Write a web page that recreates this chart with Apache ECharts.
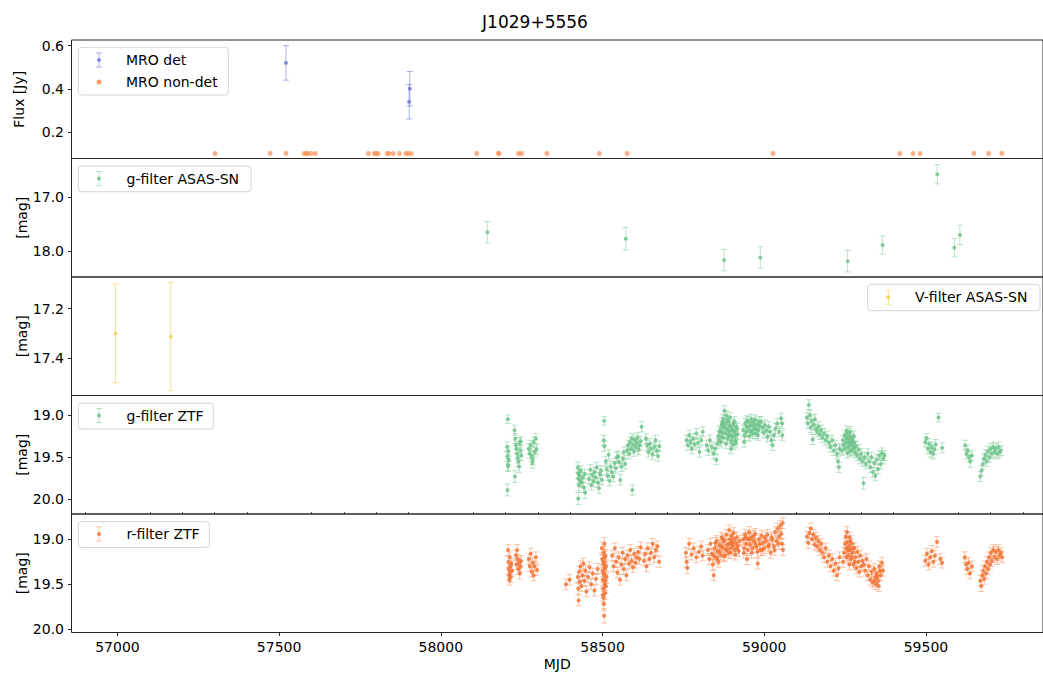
<!DOCTYPE html>
<html><head><meta charset="utf-8">
<script src="https://cdn.jsdelivr.net/npm/echarts@6/dist/echarts.min.js"></script>
<style>html,body{margin:0;padding:0;background:#fff}#c{width:1043px;height:677px}</style>
</head><body><div id="c"></div>
<script>
// ---------------- DATA ----------------
// [MJD, flux Jy, err]
const mroDet = [[57521,0.52,0.08],[57904,0.40,0.08],[57902,0.34,0.08]];
// MJD of MRO non-detections (plotted at 0.1 Jy)
const mroNonDetMjd = [57302,57472,57521,57577,57584,57588,57599,57612,57776,57794,57800,57806,57834,57840,57853,57872,57892,57899,57908,58111,58178,58180,58240,58250,58328,58490,58576,59027,59419,59460,59482,59648,59694,59735];
const mroNonDetFlux = 0.1;
// [MJD, mag, err]
const asasG = [[58144,17.65,0.20],[58572,17.77,0.21],[58876,18.17,0.20],[58988,18.12,0.20],[59258,18.19,0.20],[59366,17.89,0.17],[59535,16.57,0.18],[59588,17.94,0.17],[59605,17.70,0.18]];
const asasV = [[56994,17.30,0.20],[57165,17.313,0.219]];
const ztfG = [
[58207,19.05,0.05],[58206,19.89,0.07],[58205,19.38,0.06],[58206,19.49,0.06],[58207,19.59,0.07],[58208,19.61,0.06],[58209,19.43,0.06],[58210,19.53,0.06],
[58228,19.18,0.06],[58230,19.28,0.06],[58232,19.36,0.05],[58234,19.40,0.06],[58236,19.46,0.06],[58238,19.51,0.06],[58240,19.55,0.06],[58242,19.61,0.07],[58229,19.73,0.07],[58244,19.33,0.06],[58246,19.42,0.06],[58247,19.31,0.05],[58249,19.48,0.06],
[58272,19.40,0.06],[58275,19.46,0.06],[58278,19.36,0.06],[58281,19.49,0.06],[58284,19.53,0.06],[58287,19.32,0.06],[58290,19.44,0.06],[58294,19.28,0.06],[58296,19.41,0.06],[58283,19.57,0.06],
[58424,19.62,0.06],[58425,19.69,0.06],[58426,19.75,0.06],[58427,19.83,0.07],[58425,19.99,0.07],[58428,19.71,0.06],[58430,19.78,0.06],[58433,19.66,0.06],[58436,19.80,0.06],[58439,19.74,0.06],[58442,19.86,0.06],[58446,19.92,0.07],[58445,19.70,0.06],
[58458,19.76,0.06],[58462,19.65,0.06],[58465,19.83,0.06],[58468,19.71,0.06],[58472,19.79,0.06],[58475,19.68,0.06],[58478,19.74,0.06],[58482,19.62,0.06],[58486,19.80,0.06],[58489,19.87,0.06],[58492,19.70,0.06],[58495,19.66,0.06],[58498,19.77,0.06],
[58505,19.07,0.05],[58504,19.30,0.06],[58506,19.37,0.06],
[58510,19.55,0.06],[58513,19.64,0.06],[58516,19.72,0.06],[58519,19.47,0.06],[58522,19.78,0.06],[58525,19.61,0.06],[58529,19.68,0.06],[58533,19.73,0.06],[58537,19.57,0.06],[58541,19.63,0.06],[58544,19.50,0.06],
[58548,19.49,0.06],[58551,19.56,0.06],[58555,19.77,0.06],[58559,19.61,0.06],[58563,19.52,0.06],[58566,19.44,0.06],[58570,19.58,0.06],
[58592,19.89,0.06],
[58576,19.42,0.06],[58579,19.36,0.06],[58582,19.46,0.06],[58585,19.32,0.06],[58588,19.40,0.06],[58591,19.28,0.06],[58594,19.35,0.06],[58597,19.43,0.06],[58600,19.30,0.06],[58603,19.38,0.06],[58606,19.33,0.06],[58609,19.27,0.06],[58612,19.41,0.06],[58615,19.36,0.06],[58618,19.31,0.06],[58621,19.14,0.06],
[58634,19.28,0.06],[58638,19.36,0.06],[58642,19.44,0.06],[58646,19.34,0.06],[58650,19.40,0.06],[58655,19.47,0.06],[58660,19.38,0.06],[58664,19.30,0.06],[58668,19.42,0.06],[58672,19.49,0.06],[58676,19.37,0.06],
[58760,19.30,0.06],[58764,19.36,0.06],[58768,19.24,0.06],[58772,19.32,0.06],[58776,19.40,0.06],[58780,19.28,0.06],[58785,19.35,0.06],[58790,19.22,0.06],[58795,19.33,0.06],[58800,19.44,0.06],[58805,19.30,0.06],[58810,19.20,0.06],
[58822,19.36,0.06],[58827,19.42,0.06],[58832,19.30,0.06],[58838,19.38,0.06],[58843,19.46,0.06],[58848,19.40,0.06],[58852,19.53,0.06],[58855,19.34,0.06],
[58858,19.25,0.06],[58861,19.30,0.06],[58864,19.18,0.06],[58867,19.26,0.06],[58869,19.12,0.06],[58871,19.21,0.06],[58873,19.05,0.06],[58875,19.15,0.06],[58877,18.95,0.06],[58879,19.10,0.06],[58881,19.22,0.06],[58883,19.01,0.06],[58885,19.17,0.06],[58887,19.28,0.06],[58889,19.08,0.06],[58891,19.19,0.06],[58893,19.13,0.06],[58895,19.24,0.06],[58897,19.40,0.06],[58899,19.16,0.06],[58902,19.26,0.06],[58905,19.11,0.06],[58908,19.20,0.06],[58911,19.30,0.06],[58914,19.14,0.06],[58917,19.23,0.06],
[58862,19.20,0.06],[58866,19.32,0.06],[58870,19.09,0.06],[58874,19.27,0.06],[58878,19.14,0.06],[58882,19.34,0.06],[58886,19.06,0.06],[58890,19.25,0.06],[58894,19.03,0.06],[58898,19.31,0.06],[58901,19.18,0.06],[58904,19.35,0.06],[58907,19.08,0.06],[58910,19.24,0.06],[58913,19.33,0.06],[58916,19.16,0.06],
[58935,19.18,0.06],[58938,19.32,0.06],[58941,19.10,0.06],[58944,19.20,0.06],[58947,19.07,0.06],[58950,19.15,0.06],[58954,19.25,0.06],[58958,19.12,0.06],[58962,19.19,0.06],[58966,19.09,0.06],[58970,19.16,0.06],[58974,19.22,0.06],[58978,19.11,0.06],[58982,19.18,0.06],[58986,19.13,0.06],
[58940,19.24,0.06],[58946,19.14,0.06],[58952,19.08,0.06],[58956,19.19,0.06],[58960,19.05,0.06],[58964,19.22,0.06],[58968,19.13,0.06],[58972,19.06,0.06],[58976,19.17,0.06],[58980,19.24,0.06],[58984,19.08,0.06],
[58990,19.08,0.06],[58994,19.15,0.06],[58998,19.21,0.06],[59002,19.12,0.06],[59006,19.18,0.06],[59010,19.26,0.06],[59014,19.14,0.06],[59018,19.20,0.06],[59022,19.30,0.06],[59026,19.36,0.06],[59030,19.24,0.06],[59035,19.16,0.06],[59040,19.10,0.06],[59046,19.20,0.06],[59052,19.04,0.06],[59055,19.10,0.06],[59056,19.24,0.06],
[59132,19.03,0.06],[59135,19.10,0.06],[59138,18.88,0.06],[59141,19.00,0.06],[59144,19.15,0.06],[59147,19.07,0.06],[59150,19.29,0.06],[59153,19.12,0.06],[59157,19.05,0.06],[59160,19.17,0.06],
[59164,19.20,0.06],[59168,19.14,0.06],[59172,19.23,0.06],[59176,19.18,0.06],[59180,19.27,0.06],[59185,19.22,0.06],[59190,19.30,0.06],[59195,19.25,0.06],[59200,19.33,0.06],[59205,19.38,0.06],[59210,19.30,0.06],[59215,19.42,0.06],[59220,19.36,0.06],[59225,19.46,0.06],[59228,19.55,0.06],[59231,19.62,0.06],[59233,19.40,0.06],
[59240,19.42,0.06],[59243,19.30,0.06],[59246,19.36,0.06],[59249,19.24,0.06],[59252,19.33,0.06],[59255,19.19,0.06],[59257,19.28,0.06],[59259,19.38,0.06],[59261,19.22,0.06],[59263,19.31,0.06],[59265,19.43,0.06],[59267,19.26,0.06],[59269,19.35,0.06],[59272,19.29,0.06],[59275,19.40,0.06],[59278,19.33,0.06],[59281,19.45,0.06],[59284,19.37,0.06],[59288,19.48,0.06],[59292,19.41,0.06],[59296,19.52,0.06],[59300,19.46,0.06],[59304,19.55,0.06],[59307,19.81,0.07],[59310,19.50,0.06],[59314,19.58,0.06],
[59250,19.40,0.06],[59254,19.27,0.06],[59258,19.45,0.06],[59262,19.34,0.06],[59266,19.20,0.06],[59270,19.42,0.06],[59274,19.32,0.06],[59277,19.25,0.06],[59280,19.38,0.06],
[59320,19.46,0.06],[59324,19.55,0.06],[59328,19.62,0.06],[59332,19.50,0.06],[59336,19.68,0.06],[59340,19.57,0.06],[59344,19.72,0.06],[59348,19.53,0.06],[59352,19.64,0.06],[59356,19.48,0.06],[59360,19.58,0.06],[59364,19.45,0.06],[59368,19.52,0.06],[59372,19.48,0.06],
[59498,19.32,0.06],[59502,19.28,0.06],[59506,19.40,0.06],[59510,19.34,0.06],[59514,19.44,0.06],[59518,19.38,0.06],[59522,19.46,0.06],[59526,19.41,0.06],[59530,19.35,0.06],[59539,19.03,0.05],[59550,19.39,0.06],
[59621,19.36,0.06],[59625,19.46,0.06],[59629,19.42,0.06],[59633,19.50,0.06],[59637,19.55,0.07],[59642,19.48,0.06],
[59668,19.73,0.06],[59672,19.66,0.06],[59676,19.58,0.06],[59680,19.52,0.06],[59684,19.47,0.06],[59688,19.55,0.06],[59692,19.43,0.06],[59696,19.50,0.06],[59700,19.40,0.06],[59704,19.46,0.06],[59708,19.38,0.06],[59712,19.44,0.06],[59716,19.40,0.06],[59720,19.46,0.06],[59724,19.38,0.06],[59728,19.44,0.06],[59732,19.42,0.06]
];
const ztfR = [
[58208,19.12,0.06],[58209,19.25,0.06],[58210,19.33,0.06],[58211,19.40,0.06],[58212,19.45,0.06],[58213,19.20,0.06],[58214,19.37,0.06],[58215,19.30,0.06],[58216,19.42,0.06],[58218,19.27,0.06],[58220,19.35,0.06],
[58232,19.18,0.06],[58234,19.28,0.06],[58236,19.12,0.06],[58238,19.22,0.06],[58240,19.33,0.06],[58242,19.26,0.06],[58244,19.38,0.06],[58246,19.30,0.06],[58248,19.24,0.06],
[58272,19.22,0.06],[58275,19.30,0.06],[58278,19.16,0.06],[58281,19.36,0.06],[58284,19.26,0.06],[58287,19.40,0.06],[58290,19.30,0.06],[58294,19.20,0.06],[58298,19.34,0.06],
[58387,19.50,0.06],[58398,19.45,0.06],
[58424,19.42,0.06],[58425,19.55,0.06],[58426,19.68,0.06],[58428,19.36,0.06],[58430,19.47,0.06],[58432,19.30,0.06],[58435,19.52,0.06],[58438,19.40,0.06],[58441,19.27,0.06],[58444,19.46,0.06],[58447,19.35,0.06],[58450,19.58,0.06],[58455,19.42,0.06],[58460,19.31,0.06],[58465,19.50,0.06],[58470,19.38,0.06],[58475,19.57,0.06],[58480,19.44,0.06],[58485,19.33,0.06],
[58498,19.10,0.07],[58499,19.22,0.07],[58500,19.35,0.07],[58501,19.45,0.07],[58502,19.55,0.07],[58503,19.65,0.07],[58504,19.15,0.07],[58505,19.28,0.07],[58506,19.40,0.07],[58507,19.50,0.07],[58508,19.60,0.07],[58505,19.85,0.08],[58504,19.72,0.07],[58506,19.05,0.07],[58507,19.20,0.07],[58508,19.32,0.07],[58509,19.46,0.07],[58503,19.38,0.07],[58502,19.25,0.07],[58510,19.52,0.07],[58511,19.30,0.07],[58512,19.42,0.07],[58501,19.62,0.07],[58509,19.18,0.07],
[58530,19.18,0.06],[58534,19.30,0.06],[58538,19.10,0.06],[58542,19.25,0.06],[58546,19.37,0.06],[58550,19.20,0.06],[58554,19.45,0.06],[58558,19.28,0.06],[58562,19.15,0.06],[58566,19.33,0.06],[58570,19.22,0.06],[58574,19.40,0.06],[58578,19.18,0.06],[58582,19.27,0.06],[58586,19.12,0.06],[58590,19.24,0.06],[58594,19.31,0.06],[58598,19.16,0.06],[58602,19.26,0.06],[58606,19.20,0.06],[58610,19.14,0.06],[58614,19.22,0.06],[58618,19.09,0.06],
[58628,19.24,0.06],[58632,19.16,0.06],[58636,19.30,0.06],[58640,19.10,0.06],[58645,19.22,0.06],[58650,19.15,0.06],[58655,19.05,0.06],[58660,19.20,0.06],[58665,19.12,0.06],[58670,19.08,0.06],[58675,19.25,0.06],
[58758,19.15,0.06],[58760,19.25,0.06],[58762,19.32,0.06],[58768,19.05,0.06],[58775,19.17,0.06],[58782,19.10,0.06],[58790,19.20,0.06],[58798,19.14,0.06],[58805,19.08,0.06],[58810,19.18,0.06],
[58826,19.12,0.06],[58830,19.22,0.06],[58834,19.05,0.06],[58838,19.16,0.06],[58841,19.28,0.06],[58844,19.40,0.06],[58847,19.10,0.06],[58850,19.20,0.06],[58853,19.02,0.06],[58856,19.13,0.06],[58859,19.25,0.06],[58862,19.06,0.06],[58865,19.17,0.06],[58868,18.98,0.06],[58871,19.09,0.06],[58874,19.19,0.06],[58877,19.02,0.06],[58880,19.11,0.06],[58883,18.95,0.06],[58886,19.06,0.06],[58889,19.15,0.06],[58892,18.90,0.06],[58894,19.00,0.06],[58896,19.10,0.06],[58898,19.03,0.06],[58900,18.96,0.06],[58903,19.08,0.06],[58906,19.00,0.06],[58909,19.12,0.06],[58912,19.04,0.06],[58915,18.98,0.06],[58918,19.07,0.06],[58921,19.13,0.06],[58924,19.02,0.06],
[58843,19.18,0.06],[58849,19.04,0.06],[58855,19.22,0.06],[58861,19.14,0.06],[58867,19.08,0.06],[58873,19.00,0.06],[58879,19.18,0.06],[58885,19.12,0.06],[58891,19.05,0.06],[58897,19.15,0.06],[58901,19.05,0.06],[58905,18.93,0.06],[58910,19.17,0.06],[58916,19.10,0.06],
[58935,19.00,0.06],[58938,19.10,0.06],[58941,18.95,0.06],[58944,19.05,0.06],[58947,19.22,0.06],[58950,19.00,0.06],[58953,18.92,0.06],[58956,19.06,0.06],[58960,18.98,0.06],[58964,19.10,0.06],[58968,19.02,0.06],[58972,18.94,0.06],[58976,19.08,0.06],[58980,19.27,0.06],[58984,19.00,0.06],[58988,19.12,0.06],[58992,18.96,0.06],[58996,19.04,0.06],[59000,19.10,0.06],[59005,19.02,0.06],[59010,18.95,0.06],[59015,19.06,0.06],[59020,19.15,0.06],[59025,19.00,0.06],[59030,19.08,0.06],[59034,18.92,0.06],[59038,19.02,0.06],[59042,18.88,0.06],[59046,18.97,0.06],[59050,18.85,0.06],[59053,18.94,0.06],[59055,19.05,0.06],[59057,18.82,0.06],[59058,19.12,0.06],
[58937,19.15,0.06],[58943,18.98,0.06],[58949,19.12,0.06],[58955,19.00,0.06],[58961,19.15,0.06],[58967,18.96,0.06],[58973,19.05,0.06],[58979,19.14,0.06],[58986,19.05,0.06],[58994,19.12,0.06],[59002,18.98,0.06],[59012,19.08,0.06],[59022,18.98,0.06],[59032,19.12,0.06],[59044,19.05,0.06],
[59132,18.97,0.06],[59136,19.04,0.06],[59140,18.93,0.06],[59144,18.88,0.06],[59148,19.00,0.06],[59152,18.95,0.06],[59156,19.06,0.06],[59160,18.98,0.06],[59164,19.08,0.06],[59168,19.02,0.06],[59172,19.12,0.06],[59176,19.05,0.06],[59180,19.15,0.06],[59185,19.20,0.06],[59190,19.10,0.06],[59195,19.25,0.06],[59200,19.18,0.06],[59205,19.30,0.06],[59210,19.22,0.06],[59215,19.35,0.06],[59220,19.27,0.06],[59225,19.40,0.06],[59230,19.32,0.06],[59233,19.20,0.06],
[59244,19.25,0.06],[59247,19.15,0.06],[59250,19.05,0.06],[59252,18.97,0.06],[59254,19.10,0.06],[59256,18.92,0.06],[59258,19.03,0.06],[59260,19.18,0.06],[59262,19.08,0.06],[59264,18.98,0.06],[59266,19.12,0.06],[59268,19.22,0.06],[59270,19.05,0.06],[59273,19.15,0.06],[59276,19.28,0.06],[59279,19.10,0.06],[59282,19.20,0.06],[59285,19.32,0.06],[59288,19.14,0.06],[59291,19.25,0.06],[59294,19.36,0.06],[59297,19.18,0.06],[59300,19.30,0.06],[59304,19.24,0.06],
[59255,19.20,0.06],[59259,19.12,0.06],[59263,19.28,0.06],[59267,19.02,0.06],[59271,19.20,0.06],[59275,19.10,0.06],[59280,19.25,0.06],
[59308,19.28,0.06],[59312,19.35,0.06],[59316,19.22,0.06],[59320,19.40,0.06],[59324,19.30,0.06],[59328,19.45,0.06],[59332,19.36,0.06],[59336,19.48,0.06],[59340,19.33,0.06],[59344,19.42,0.06],[59348,19.38,0.06],[59352,19.46,0.06],[59356,19.30,0.06],[59360,19.40,0.06],[59364,19.26,0.06],[59367,19.35,0.06],
[59340,19.46,0.06],[59346,19.50,0.06],[59350,19.42,0.06],[59354,19.52,0.06],[59358,19.35,0.06],
[59498,19.24,0.06],[59503,19.16,0.06],[59508,19.28,0.06],[59513,19.20,0.06],[59518,19.13,0.06],[59523,19.25,0.06],[59528,19.18,0.06],[59534,19.03,0.06],[59544,19.22,0.06],[59550,19.26,0.06],
[59620,19.20,0.06],[59624,19.28,0.06],[59628,19.33,0.06],[59632,19.26,0.06],[59636,19.38,0.06],[59642,19.30,0.06],
[59668,19.46,0.06],[59671,19.52,0.06],[59674,19.40,0.06],[59677,19.35,0.06],[59680,19.44,0.06],[59683,19.30,0.06],[59686,19.38,0.06],[59689,19.25,0.06],[59692,19.33,0.06],[59695,19.20,0.06],[59698,19.28,0.06],[59701,19.15,0.06],[59704,19.24,0.06],[59708,19.12,0.06],[59712,19.20,0.06],[59716,19.14,0.06],[59720,19.22,0.06],[59724,19.12,0.06],[59728,19.18,0.06],[59732,19.15,0.06],[59736,19.20,0.06]
];
const xMajorTicks = [57000,57500,58000,58500,59000,59500];
const yTicks = [[0.2,0.4,0.6],[17.0,18.0],[17.2,17.4],[19.0,19.5,20.0],[19.0,19.5,20.0]];
const yRanges = [[0.077,0.626],[16.277,18.484],[17.0715,17.5516],[18.769,20.174],[18.719,20.036]];
const yNames = ['Flux [Jy]','[mag]','[mag]','[mag]','[mag]'];
const X_MIN = 56858, X_MAX = 59862;

// ---------------- STYLE ----------------
const FONT = '"DejaVu Sans", sans-serif';
const C = {
  det:  {dot:'rgba(118,128,214,0.9)', bar:'rgba(118,128,214,0.6)'},
  non:  {dot:'rgba(247,140,80,0.85)'},
  g:    {dot:'rgba(110,196,138,0.85)', bar:'rgba(120,200,146,0.5)'},
  v:    {dot:'rgba(238,208,70,0.85)', bar:'rgba(240,212,90,0.65)'},
  r:    {dot:'rgba(242,114,50,0.85)', bar:'rgba(244,130,70,0.45)'}
};
const tops = [40, 158.5, 277, 395.5, 514];
const H = 118.5;

const minorTicks = [];
for (let v = 56900; v <= 59800; v += 100) if (v % 500 !== 0) minorTicks.push(v);

function errItem(col, cap, r) {
  return function (params, api) {
    const x = api.value(0), y = api.value(1), e = api.value(2);
    const c = api.coord([x, y]);
    const a = api.coord([x, y - e]);
    const b = api.coord([x, y + e]);
    const s = {stroke: col.bar, lineWidth: 1, fill: null};
    return {type: 'group', children: [
      {type: 'line', shape: {x1: c[0], y1: a[1], x2: c[0], y2: b[1]}, style: s},
      {type: 'line', shape: {x1: c[0] - cap, y1: a[1], x2: c[0] + cap, y2: a[1]}, style: s},
      {type: 'line', shape: {x1: c[0] - cap, y1: b[1], x2: c[0] + cap, y2: b[1]}, style: s},
      {type: 'circle', shape: {cx: c[0], cy: c[1], r: r}, style: {fill: col.dot, stroke: null}}
    ]};
  };
}

const grid = tops.map(t => ({left: 71.5, right: 0, top: t, height: H, show: true, borderColor: '#262626', borderWidth: 1, backgroundColor: 'transparent', containLabel: false}));

const xAxis = tops.map((t, i) => ({
  type: 'value', gridIndex: i, min: X_MIN, max: X_MAX,
  axisLine: {show: false}, splitLine: {show: false},
  axisTick: {show: i === 4, length: 3.5, customValues: xMajorTicks, lineStyle: {color: '#262626', width: 1}},
  axisLabel: {show: i === 4, customValues: xMajorTicks, margin: 7, color: '#000', fontSize: 14, fontFamily: FONT, formatter: v => String(v)},
  name: i === 4 ? 'MJD' : '', nameLocation: 'middle', nameGap: 24, nameMoveOverlap: false,
  nameTextStyle: {color: '#000', fontSize: 14, fontFamily: FONT}
}));
xAxis.push({
  type: 'value', gridIndex: 4, min: X_MIN, max: X_MAX,
  axisLine: {show: false}, splitLine: {show: false}, axisLabel: {show: false},
  axisTick: {show: true, length: 2, customValues: minorTicks, lineStyle: {color: '#262626', width: 0.8}}
});

const yAxis = tops.map((t, i) => ({
  type: 'value', gridIndex: i, min: yRanges[i][0], max: yRanges[i][1], inverse: i > 0,
  axisLine: {show: false}, splitLine: {show: false},
  axisTick: {show: true, length: 3.5, customValues: yTicks[i], lineStyle: {color: '#262626', width: 1}},
  axisLabel: {show: true, customValues: yTicks[i], margin: 7.5, color: '#000', fontSize: 14, fontFamily: FONT, formatter: v => v.toFixed(1)},
  name: yNames[i], nameLocation: 'middle', nameRotate: 90, nameGap: i === 0 ? 45.5 : 42.5, nameMoveOverlap: false,
  nameTextStyle: {color: '#000', fontSize: 14, fontFamily: FONT}
}));

const series = [
  {name: 'MRO non-det', type: 'scatter', xAxisIndex: 0, yAxisIndex: 0, symbol: 'circle', symbolSize: 5,
   itemStyle: {color: C.non.dot}, data: mroNonDetMjd.map(m => [m, mroNonDetFlux])},
  {name: 'MRO det', type: 'custom', xAxisIndex: 0, yAxisIndex: 0, renderItem: errItem(C.det, 3, 2), data: mroDet},
  {name: 'g-filter ASAS-SN', type: 'custom', xAxisIndex: 1, yAxisIndex: 1, renderItem: errItem(C.g, 3, 2), data: asasG},
  {name: 'V-filter ASAS-SN', type: 'custom', xAxisIndex: 2, yAxisIndex: 2, renderItem: errItem(C.v, 3, 1.8), data: asasV},
  {name: 'g-filter ZTF', type: 'custom', xAxisIndex: 3, yAxisIndex: 3, renderItem: errItem(C.g, 3, 2), data: ztfG},
  {name: 'r-filter ZTF', type: 'custom', xAxisIndex: 4, yAxisIndex: 4, renderItem: errItem(C.r, 3, 2), data: ztfR}
];

// legends drawn as boxes with icons (matplotlib style)
function legendBox(x, y, w, h, entries) {
  const ch = [{type: 'rect', shape: {x: x, y: y, width: w, height: h, r: 3}, style: {fill: 'rgba(255,255,255,0.8)', stroke: '#d4d4d4', lineWidth: 1}}];
  entries.forEach(en => {
    const ix = en.ix, iy = en.iy;
    if (en.kind === 'err') {
      const s = {stroke: en.col.bar, lineWidth: 1};
      ch.push({type: 'line', shape: {x1: ix, y1: iy - 7, x2: ix, y2: iy + 7}, style: s});
      ch.push({type: 'line', shape: {x1: ix - 3, y1: iy - 7, x2: ix + 3, y2: iy - 7}, style: s});
      ch.push({type: 'line', shape: {x1: ix - 3, y1: iy + 7, x2: ix + 3, y2: iy + 7}, style: s});
      ch.push({type: 'circle', shape: {cx: ix, cy: iy, r: 2}, style: {fill: en.col.dot}});
    } else {
      ch.push({type: 'circle', shape: {cx: ix, cy: iy, r: 2.5}, style: {fill: en.col.dot}});
    }
    ch.push({type: 'text', x: en.tx, y: iy, style: {text: en.text, fill: '#000', fontSize: 14, fontFamily: FONT, verticalAlign: 'middle', align: 'left'}});
  });
  return {type: 'group', children: ch, z: 100};
}

const graphic = [
  legendBox(78.3, 47.3, 150, 47.7, [
    {kind: 'err', col: C.det, ix: 99, iy: 60, tx: 126, text: 'MRO det'},
    {kind: 'dot', col: C.non, ix: 99, iy: 82, tx: 126, text: 'MRO non-det'}]),
  legendBox(78.3, 166, 172.7, 25.7, [{kind: 'err', col: C.g, ix: 99, iy: 178.5, tx: 126.5, text: 'g-filter ASAS-SN'}]),
  legendBox(867.7, 284.3, 172.3, 26.4, [{kind: 'err', col: C.v, ix: 888.3, iy: 297.2, tx: 915, text: 'V-filter ASAS-SN'}]),
  legendBox(78.3, 403.3, 135, 25.7, [{kind: 'err', col: C.g, ix: 99, iy: 415.5, tx: 126.5, text: 'g-filter ZTF'}]),
  legendBox(78.3, 521.7, 131, 25.7, [{kind: 'err', col: C.r, ix: 99, iy: 534, tx: 126.5, text: 'r-filter ZTF'}])
];

const chart = echarts.init(document.getElementById('c'), null, {renderer: 'svg', width: 1043, height: 677});
chart.setOption({
  animation: false,
  backgroundColor: '#fff',
  title: {text: 'J1029+5556', left: 530, top: 8, textAlign: 'center', textStyle: {color: '#000', fontSize: 17, fontWeight: 'normal', fontFamily: FONT}},
  grid: grid, xAxis: xAxis, yAxis: yAxis, series: series, graphic: graphic
});
</script></body></html>
